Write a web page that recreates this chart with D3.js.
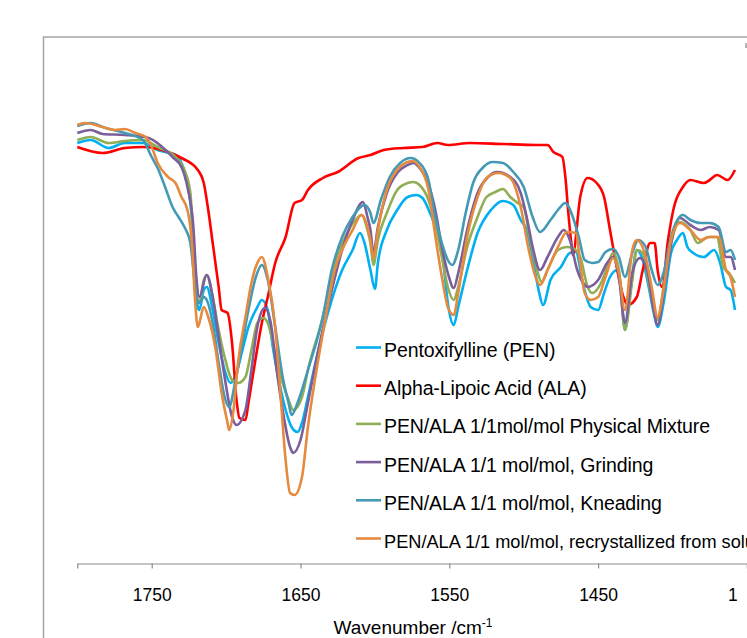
<!DOCTYPE html>
<html>
<head>
<meta charset="utf-8">
<script src="https://cdn.jsdelivr.net/npm/d3@7"></script>
<style>
  html, body { margin: 0; padding: 0; background: #fff; overflow: hidden; }
  svg { display: block; font-family: "Liberation Sans", Arial, sans-serif; }
</style>
</head>
<body>
<svg id="chart" width="747" height="638"></svg>
<script>
// wavenumber (cm-1) / transmittance-like values
const xTicks = [1750, 1650, 1550, 1450, 1350];

const seriesNames = [
  "Pentoxifylline (PEN)",
  "Alpha-Lipoic Acid (ALA)",
  "PEN/ALA 1/1mol/mol Physical Mixture",
  "PEN/ALA 1/1 mol/mol, Grinding",
  "PEN/ALA 1/1 mol/mol, Kneading",
  "PEN/ALA 1/1 mol/mol, recrystallized from solution"
];
const seriesColors = ["#00b0f0", "#ff0000", "#8fae55", "#7b5e9c", "#4499b4", "#e58a3e"];

const penValues = [
  [1800, 91.4], [1791, 92], [1779, 90.4], [1768, 91.4], [1756, 91.4], [1746, 90], [1734, 89], [1730, 87.4],
  [1726, 83.4], [1723, 76], [1721, 64.6], [1719, 58.6], [1718, 58], [1715, 62], [1713, 62.6], [1709, 58],
  [1705, 51.4], [1701, 46], [1697, 43.4], [1694, 44.6], [1689, 50], [1685, 54.6], [1679, 58.6], [1676, 60],
  [1672, 58], [1669, 51.4], [1665, 44.6], [1660, 38], [1656, 34.6], [1652, 33.6], [1649, 35.4], [1645, 40.6],
  [1638, 50], [1631, 58], [1622, 66], [1615, 70], [1610, 73.4], [1607, 71.4], [1603, 66], [1600, 62.2],
  [1598, 67.4], [1592, 74], [1585, 78], [1578, 80.6], [1572, 81], [1568, 80.4], [1563, 77.4], [1558, 73.4],
  [1554, 67.4], [1551, 59.4], [1547, 55], [1544, 58.6], [1538, 66], [1531, 73.4], [1522, 78], [1514, 79.8],
  [1507, 79], [1502, 76], [1498, 74], [1494, 68.6], [1490, 62], [1487, 59], [1482, 64], [1475, 66.6],
  [1469, 69.4], [1465, 69.6], [1460, 63], [1455, 58.6], [1450, 58], [1446, 61.4], [1442, 64.6], [1437, 66],
  [1435, 63.4], [1432, 54], [1428, 62.6], [1424, 70], [1420, 68], [1416, 62.6], [1412, 56.6], [1410, 54.6],
  [1406, 59.4], [1401, 69.4], [1397, 72], [1393, 73.4], [1390, 70.6], [1386, 69.4], [1379, 68.6], [1372, 70],
  [1368, 67.4], [1364, 62.6], [1361, 62], [1358, 58]
];

const alaValues = [
  [1800, 90.6], [1783, 89.4], [1768, 90.4], [1756, 90.6], [1739, 89.6], [1730, 88.4], [1719, 86], [1715, 83.4],
  [1712, 78], [1709, 71.4], [1705, 62.6], [1703, 58], [1699, 57.4], [1696, 51.4], [1693, 40], [1691, 36.4],
  [1687, 36], [1685, 39.4], [1680, 48.6], [1676, 55.4], [1672, 60.6], [1667, 67.4], [1660, 72.6], [1654, 79.4],
  [1649, 80], [1645, 82], [1635, 84.4], [1625, 85.6], [1611, 88.4], [1603, 89], [1594, 90], [1581, 90.4],
  [1568, 90.6], [1558, 91.4], [1551, 91], [1536, 91.4], [1514, 91.2], [1491, 91], [1484, 91], [1480, 89.6],
  [1474, 88.6], [1472, 84.6], [1470, 77.4], [1468, 71.4], [1467, 69], [1462, 80.6], [1457, 84.4], [1451, 83.4],
  [1446, 80.6], [1442, 74], [1438, 67.4], [1433, 60.6], [1430, 59], [1424, 60.6], [1420, 66], [1415, 71.4],
  [1412, 71.4], [1410, 66], [1407, 62.6], [1403, 72], [1399, 78.6], [1393, 82.6], [1388, 84], [1379, 83.4],
  [1375, 84], [1370, 85], [1363, 84], [1358, 86]
];

const mixtureValues = [
  [1800, 92], [1791, 92.6], [1779, 91.4], [1768, 91.8], [1756, 92], [1746, 90.6], [1734, 88.6], [1728, 86],
  [1724, 81.4], [1722, 71.4], [1720, 61.4], [1718, 59.4], [1715, 64], [1713, 65], [1709, 60.6], [1705, 54],
  [1701, 48.6], [1696, 44], [1692, 43.4], [1687, 44.6], [1683, 50], [1679, 55.4], [1675, 56.4], [1672, 55.4],
  [1667, 49.4], [1662, 43.4], [1658, 40], [1655, 38], [1649, 40.6], [1645, 46], [1635, 56.6], [1627, 67.4],
  [1620, 72.6], [1613, 76], [1609, 77], [1605, 74], [1603, 71.4], [1601, 67], [1598, 72], [1592, 77.4],
  [1585, 82], [1578, 83.4], [1574, 83.6], [1570, 83], [1564, 80], [1559, 74.6], [1555, 68.6], [1551, 62.6],
  [1547, 60], [1544, 62.6], [1538, 70.6], [1531, 76.6], [1525, 80.6], [1519, 81.6], [1514, 82.2], [1509, 80.6],
  [1504, 79.4], [1500, 78.6], [1496, 72.6], [1491, 66], [1488, 63.6], [1484, 66], [1477, 70], [1471, 70.6],
  [1467, 70.4], [1462, 68.6], [1457, 62.6], [1454, 61.4], [1448, 63.4], [1443, 67.4], [1440, 69.4], [1436, 66],
  [1432, 54], [1427, 64], [1424, 70], [1420, 69.4], [1416, 63.4], [1410, 56], [1406, 62.6], [1401, 71.4],
  [1395, 75.6], [1388, 74], [1383, 71.4], [1376, 72.6], [1370, 72.6], [1366, 66.6], [1362, 65.4], [1358, 63.4]
];

const grindingValues = [
  [1800, 93.4], [1791, 94], [1783, 93.2], [1768, 93], [1752, 92.4], [1743, 90.6], [1736, 88.6], [1730, 86.6],
  [1726, 82.6], [1722, 74.6], [1720, 64.6], [1718, 60.6], [1713, 65], [1709, 60.6], [1705, 52.6], [1701, 44.6],
  [1696, 36.6], [1693, 35], [1687, 38], [1683, 46], [1679, 54.6], [1674, 58.4], [1670, 55.4], [1666, 46],
  [1662, 38], [1657, 30.6], [1655, 29.4], [1650, 32], [1645, 39.4], [1638, 50], [1631, 59.4], [1622, 70],
  [1615, 76], [1608, 79.6], [1605, 76.6], [1603, 74], [1601, 69.4], [1598, 74.6], [1592, 81.4], [1585, 85.4],
  [1578, 87], [1574, 87.4], [1570, 86.4], [1565, 84], [1559, 77.4], [1555, 70.6], [1551, 65.4], [1547, 62.4],
  [1544, 65.4], [1538, 74], [1531, 81.4], [1524, 84.6], [1518, 85.6], [1509, 84.6], [1502, 81.4], [1498, 76.6],
  [1494, 70.6], [1489, 66], [1484, 68.6], [1477, 72.6], [1473, 74], [1469, 72], [1464, 66], [1460, 63.4],
  [1457, 62.6], [1450, 64], [1444, 67.4], [1440, 68.6], [1436, 64.6], [1432, 55.4], [1427, 65.4], [1422, 68.4],
  [1417, 66], [1413, 58.6], [1410, 55], [1405, 63.4], [1400, 72.6], [1395, 76.4], [1388, 75], [1381, 74],
  [1375, 74.6], [1369, 74], [1364, 68.6], [1361, 68.6], [1358, 66]
];

const kneadingValues = [
  [1800, 94.8], [1791, 95.4], [1781, 94.4], [1768, 93.4], [1756, 92], [1750, 88.6], [1746, 86.4], [1741, 82.6],
  [1736, 78.6], [1732, 76.6], [1728, 74.6], [1724, 71.4], [1722, 66], [1720, 60.6], [1718, 59.4], [1715, 60.6],
  [1713, 60], [1709, 55.4], [1705, 47.4], [1701, 40.6], [1698, 38.6], [1694, 43.4], [1689, 51.4], [1685, 58],
  [1680, 64.6], [1676, 67], [1672, 64], [1667, 54.6], [1662, 44.6], [1658, 39.4], [1656, 37], [1652, 39.4],
  [1645, 46], [1635, 56.6], [1629, 66], [1622, 72.6], [1615, 76.6], [1607, 79], [1603, 77.4], [1601, 75.4],
  [1596, 80], [1590, 84.6], [1583, 87.4], [1576, 88.4], [1570, 87.4], [1564, 84], [1560, 77.4], [1555, 71.4],
  [1551, 68], [1548, 67], [1544, 70], [1539, 77.4], [1534, 83.4], [1527, 86.6], [1521, 87.6], [1514, 87.4],
  [1507, 85.6], [1500, 82.6], [1494, 76.6], [1489, 73.6], [1482, 76], [1477, 78], [1472, 79.4], [1467, 76.6],
  [1463, 72.6], [1459, 68], [1454, 67.4], [1450, 67.6], [1445, 69.6], [1440, 70.2], [1436, 68.6], [1432, 64.6],
  [1427, 69.4], [1423, 72], [1418, 70.6], [1414, 66], [1410, 63], [1406, 65.4], [1401, 72.6], [1393, 77],
  [1388, 76], [1381, 75.4], [1375, 75.4], [1369, 74.6], [1364, 69.6], [1361, 70], [1358, 68]
];

const recrystValues = [
  [1800, 95], [1795, 95.4], [1783, 94.6], [1775, 94], [1768, 94.2], [1761, 93.4], [1754, 92.6], [1750, 90.6],
  [1746, 87.4], [1739, 84.6], [1734, 83.4], [1730, 80.6], [1726, 78], [1723, 71.4], [1721, 60.6], [1719, 54.6],
  [1715, 58.6], [1712, 56.6], [1707, 50], [1703, 41.4], [1699, 35.4], [1698, 34], [1695, 38], [1692, 47.4],
  [1687, 56.6], [1683, 63.4], [1679, 67.4], [1676, 68.6], [1672, 64.6], [1667, 54.6], [1664, 43.4], [1660, 28],
  [1657, 21.4], [1654, 21], [1649, 24.6], [1645, 34.6], [1640, 44.6], [1633, 56.6], [1627, 66], [1622, 70],
  [1615, 74], [1609, 77], [1605, 74.6], [1603, 72], [1601, 68.4], [1598, 74], [1592, 82], [1585, 86],
  [1578, 87.6], [1575, 87.8], [1570, 86.6], [1564, 82], [1560, 74], [1555, 64.6], [1551, 58.6], [1547, 57],
  [1544, 61.4], [1538, 72.6], [1531, 80.6], [1525, 84.4], [1517, 85.4], [1509, 84.4], [1502, 78.6], [1497, 70.6],
  [1492, 64.6], [1489, 63], [1484, 66], [1477, 70.6], [1471, 73.6], [1465, 73.4], [1462, 67.4], [1459, 61.4],
  [1455, 60], [1450, 60.6], [1445, 64.6], [1440, 68.4], [1436, 65.4], [1432, 58], [1427, 70], [1424, 72],
  [1418, 68.6], [1414, 62.6], [1410, 56.6], [1406, 62], [1401, 72], [1395, 75.4], [1388, 74], [1381, 72],
  [1375, 72.6], [1369, 72.6], [1364, 66], [1361, 64.6], [1358, 60.6]
];

const allSeries = [penValues, alaValues, mixtureValues, grindingValues, kneadingValues, recrystValues];

const svg = d3.select("#chart");

// the source picture is cut just right of the last curve point
svg.append("clipPath").attr("id", "cut")
  .append("rect").attr("x", 0).attr("y", 0).attr("width", 737).attr("height", 638);

// outer chart frame (runs past the window on the right and bottom)
svg.append("rect")
  .attr("x", 43.5).attr("y", 37)
  .attr("width", 800).attr("height", 700)
  .attr("fill", "none")
  .attr("stroke", "#a5a5a5")
  .attr("stroke-width", 1.5);

// little corner mark of the plot area at the right edge
svg.append("rect")
  .attr("x", 745).attr("y", 43)
  .attr("width", 2).attr("height", 5)
  .attr("fill", "#b5b5b5");

// reversed wavenumber axis
const x = d3.scaleLinear().domain([1800, 1300]).range([77.3, 821.3]);
const y = d3.scaleLinear().domain([0, 100]).range([600, 100]);

const axisY = 563.5;
const xAxis = d3.axisBottom(x)
  .tickValues(xTicks)
  .tickSize(5)
  .tickPadding(20)
  .tickFormat(d3.format("d"));

const axisG = svg.append("g")
  .attr("transform", `translate(0, ${axisY})`)
  .call(xAxis);

axisG.select(".domain").attr("stroke", "#8c8c8c").attr("stroke-width", 1.2);
axisG.selectAll(".tick line").attr("stroke", "#8c8c8c").attr("stroke-width", 1.2);
axisG.selectAll(".tick text")
  .attr("fill", "#000")
  .attr("font-size", 17.5)
  .attr("font-family", "Liberation Sans, Arial, sans-serif")
  .attr("clip-path", "url(#cut)");

// clip path units follow the text's own user space, so re-anchor it per tick
axisG.selectAll(".tick").each(function (d) {
  const id = "cut" + d;
  svg.append("clipPath").attr("id", id)
    .append("rect").attr("x", -x(d)).attr("y", -50).attr("width", 737).attr("height", 120);
  d3.select(this).select("text").attr("clip-path", `url(#${id})`);
});

// axis title with superscript
const title = svg.append("text")
  .attr("x", 413)
  .attr("y", 634)
  .attr("text-anchor", "middle")
  .attr("font-size", 19)
  .attr("fill", "#000");
title.append("tspan").text("Wavenumber /cm");
title.append("tspan").attr("font-size", 12).attr("dy", -7).text("-1");

// spectra
const line = d3.line()
  .x(d => x(d[0]))
  .y(d => y(d[1]))
  .curve(d3.curveMonotoneX);

svg.append("g")
  .selectAll("path")
  .data(allSeries)
  .join("path")
  .attr("d", line)
  .attr("fill", "none")
  .attr("stroke", (d, i) => seriesColors[i])
  .attr("stroke-width", 2.6)
  .attr("stroke-linejoin", "round");

// legend
const legendX = 356;
const legendY = 347.5;
const legendStep = 38.2;

const legend = svg.append("g").attr("transform", `translate(${legendX}, ${legendY})`);
const items = legend.selectAll("g")
  .data(seriesNames)
  .join("g")
  .attr("transform", (d, i) => `translate(0, ${i * legendStep})`);

items.append("line")
  .attr("x1", 0).attr("x2", 25)
  .attr("stroke", (d, i) => seriesColors[i])
  .attr("stroke-width", 2.6);

items.append("text")
  .attr("x", 28)
  .attr("y", 9.5)
  .attr("font-size", (d, i) => i === 5 ? 18.2 : 19.5)
  .attr("letter-spacing", (d, i) => i === 5 ? 0 : -0.1)
  .attr("fill", "#000")
  .text(d => d);
</script>
</body>
</html>
